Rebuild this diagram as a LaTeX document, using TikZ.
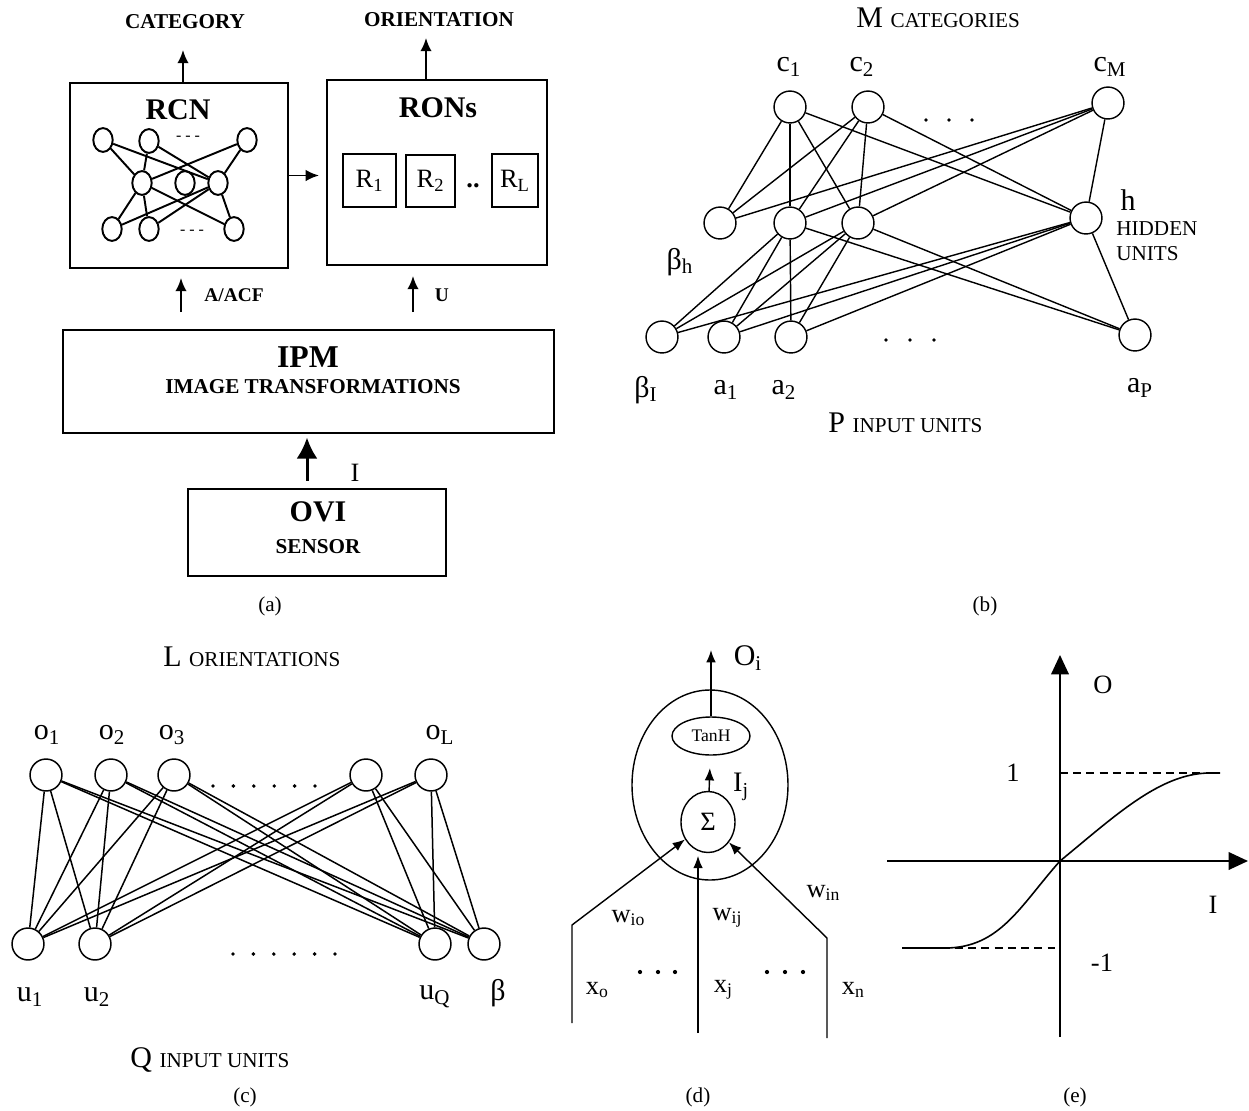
\documentclass[tikz,border=0pt]{standalone}
\usepackage{fontspec}
\setmainfont{Liberation Serif}
\usetikzlibrary{arrows.meta,shapes.geometric}
\def\pxl{0.5669pt}
\newcommand\fs[1]{\fontsize{#1}{#1}\selectfont}
\newcommand\lowtxt[1]{\raisebox{-0.25ex}{\fs{10}#1}}
\begin{document}
\begin{tikzpicture}[x=0.5669pt,y=-0.5669pt]
\tikzset{
  lbl/.style={inner sep=0pt},
  abox/.style={draw, line width=1.1pt, inner sep=0pt},
  arra/.style={line width=1.1pt, -{Latex[length=7.5pt,width=6.5pt]}},
  inn/.style={ellipse, draw, line width=1.1pt, minimum width=11pt, minimum height=13.5pt, inner sep=0pt},
  nl/.style={line width=1.1pt},
  bn/.style={circle, draw, line width=0.8pt, minimum size=18.1pt, inner sep=0pt},
  bl/.style={line width=0.8pt},
  cn/.style={circle, draw, line width=0.85pt, minimum size=18.1pt, inner sep=0pt},
  cl/.style={line width=0.85pt},
  ard/.style={line width=0.8pt, -{Latex[length=7pt,width=5.5pt]}},
  ae/.style={line width=1pt, -{Triangle[length=11pt,width=10pt]}},
  dsh/.style={line width=0.8pt, dash pattern=on 4.5pt off 3pt},
}
\useasboundingbox (0,0) rectangle (1249,1111);

% ================= (a) =================
\node[abox, minimum width=218*\pxl, minimum height=185*\pxl] (rcn) at (179,175.5) {};
\node[abox, minimum width=220*\pxl, minimum height=185*\pxl] (rons) at (437,172.5) {};
\node[abox, minimum width=491*\pxl, minimum height=103*\pxl] (ipm) at (308.5,381.5) {};
\node[abox, minimum width=258*\pxl, minimum height=87*\pxl] (ovi) at (317,532.5) {};

\node[lbl, font=\fs{12}\bfseries] (cat) at (185,22) {CATEGORY};
\node[lbl, font=\fs{12}\bfseries] (ori) at (439,20) {ORIENTATION};
\node[lbl, font=\fs{17}\bfseries] (rcnt) at (178,110) {RCN};
\node[lbl, font=\fs{17}\bfseries] (ront) at (438,108) {RONs};
\node[lbl, font=\fs{18}\bfseries] (ipmt) at (308,357) {IPM};
\node[lbl, font=\fs{12}\bfseries] (ipms) at (313,387) {IMAGE TRANSFORMATIONS};
\node[lbl, font=\fs{17}\bfseries] (ovit) at (318,512) {OVI};
\node[lbl, font=\fs{12}\bfseries] (ovis) at (318,547) {SENSOR};
\node[lbl, font=\fs{11}\bfseries] (acft) at (234,295) {A/ACF};
\node[lbl, font=\fs{11}\bfseries] (ut) at (442,295) {U};
\node[lbl, font=\fs{15}] (it) at (355,473) {I};
\node[lbl, font=\fs{12}] (capa) at (270,606) {(a)};

% inner network of RCN
\node[inn] (t1) at (103,140) {};
\node[inn] (t2) at (149,141) {};
\node[inn] (t3) at (247,140) {};
\node[inn] (m1) at (142,183) {};
\node[inn] (m2) at (185,183) {};
\node[inn] (m3) at (218,183) {};
\node[inn] (b1) at (112,229) {};
\node[inn] (b2) at (149,229) {};
\node[inn] (b3) at (234,229) {};
\node[lbl, font=\fs{9}] (dt) at (188,138) {- - -};
\node[lbl, font=\fs{9}] (db) at (192,232) {- - -};
\foreach \s/\t in {t1/m1,t1/m3,t2/m1,t2/m3,t3/m1,t3/m3,m1/b1,m1/b2,m1/b3,m3/b1,m3/b2,m3/b3}
  {\draw[nl] (\s) -- (\t);}

% R boxes
\node[abox, minimum width=53*\pxl, minimum height=53*\pxl, font=\fs{15}] (r1) at (369.5,180.5) {R\textsubscript{1}};
\node[abox, minimum width=49*\pxl, minimum height=52*\pxl, font=\fs{15}] (r2) at (430.5,181) {R\textsubscript{2}};
\node[abox, minimum width=46*\pxl, minimum height=53*\pxl, font=\fs{15}] (rl) at (515,180.5) {R\textsubscript{L}};
\node[lbl, font=\fs{15}\bfseries] (rdots) at (473,186) {..};

% arrows (a)
\coordinate (catarr) at (183,50);
\coordinate (oriarr) at (426,38);
\coordinate (acfx) at (181,278);
\coordinate (ux) at (413,276);
\coordinate (ix) at (307,0);
\draw[arra] (rcn.north -| catarr) -- (catarr);
\draw[arra] (rons.north -| oriarr) -- (oriarr);
\draw[arra, shorten >=4pt] (rcn.east) -- (rons.west |- rcn.east);
\draw[arra, shorten <=9.6pt] (ipm.north -| acfx) -- (acfx);
\draw[arra, shorten <=9.6pt] (ipm.north -| ux) -- (ux);
\draw[line width=1.7pt, -{Latex[length=12pt,width=12pt]}, shorten <=4pt, shorten >=2pt] (ovi.north -| ix) -- (ipm.south -| ix);

% ================= (b) =================
\node[bn] (c1) at (790,107) {};
\node[bn] (c2) at (868,107) {};
\node[bn] (cm) at (1108,103) {};
\node[bn] (bh) at (720,223) {};
\node[bn] (h1) at (790,223) {};
\node[bn] (h2) at (858,223) {};
\node[bn] (hh) at (1086,218) {};
\node[bn] (bi) at (662,337) {};
\node[bn] (a1) at (724,337) {};
\node[bn] (a2) at (791,337) {};
\node[bn] (ap) at (1135,335) {};
\foreach \s in {c1,c2,cm} {\foreach \t in {bh,h1,h2,hh} {\draw[bl] (\s) -- (\t);}}
\foreach \s in {h1,h2,hh} {\foreach \t in {bi,a1,a2,ap} {\draw[bl] (\s) -- (\t);}}
\foreach \x in {926,949,972} {\fill (\x,120) circle (1.1pt);}
\foreach \x in {886,910,934} {\fill (\x,340) circle (1.1pt);}

\node[lbl, font=\fs{17}, anchor=west] (mcat) at (856,18) {M {\fs{12}CATEGORIES}};
\node[lbl, font=\fs{17}] (lc1) at (789,67) {c\textsubscript{1}};
\node[lbl, font=\fs{17}] (lc2) at (862,67) {c\textsubscript{2}};
\node[lbl, font=\fs{17}] (lcm) at (1110,67) {c\textsubscript{M}};
\node[lbl, font=\fs{17}] (lbh) at (680,262) {β\textsubscript{h}};
\node[lbl, font=\fs{17}] (lbi) at (646,390) {β\textsubscript{I}};
\node[lbl, font=\fs{17}] (la1) at (726,390) {a\textsubscript{1}};
\node[lbl, font=\fs{17}] (la2) at (784,390) {a\textsubscript{2}};
\node[lbl, font=\fs{17}] (lap) at (1140,388) {a\textsubscript{P}};
\node[lbl, font=\fs{17}] (lh) at (1128,200) {h};
\node[lbl, font=\fs{12}, anchor=west] (lhid) at (1116,229) {HIDDEN};
\node[lbl, font=\fs{12}, anchor=west] (lun) at (1116,254) {UNITS};
\node[lbl, font=\fs{17}, anchor=west] (pin) at (828,423) {P {\fs{12}INPUT UNITS}};
\node[lbl, font=\fs{12}] (capb) at (985,606) {(b)};

% ================= (c) =================
\node[cn] (o1) at (46,775) {};
\node[cn] (o2) at (111,775) {};
\node[cn] (o3) at (174,775) {};
\node[cn] (o4) at (366,775) {};
\node[cn] (o5) at (431,775) {};
\node[cn] (u1) at (28,944) {};
\node[cn] (u2) at (95,944) {};
\node[cn] (uq) at (435,944) {};
\node[cn] (ub) at (484,944) {};
\foreach \s in {o1,o2,o3,o4,o5} {\foreach \t in {u1,u2,uq,ub} {\draw[cl] (\s) -- (\t);}}
\foreach \x in {213,233.4,253.8,274.2,294.6,315} {\fill (\x,786) circle (1.1pt);}
\foreach \x in {233,253.4,273.8,294.2,314.6,335} {\fill (\x,954) circle (1.1pt);}
\node[lbl, font=\fs{17}, anchor=west] (lor) at (163,657) {L {\fs{12}ORIENTATIONS}};
\node[lbl, font=\fs{17}] (lo1) at (47,735) {o\textsubscript{1}};
\node[lbl, font=\fs{17}] (lo2) at (112,735) {o\textsubscript{2}};
\node[lbl, font=\fs{17}] (lo3) at (172,735) {o\textsubscript{3}};
\node[lbl, font=\fs{17}] (lol) at (440,735) {o\textsubscript{L}};
\node[lbl, font=\fs{17}] (lu1) at (30,997) {u\textsubscript{1}};
\node[lbl, font=\fs{17}] (lu2) at (97,997) {u\textsubscript{2}};
\node[lbl, font=\fs{17}] (luq) at (435,997) {u\textsubscript{Q}};
\node[lbl, font=\fs{17}] (lub) at (498,993) {β};
\node[lbl, font=\fs{17}, anchor=west] (qin) at (130,1060) {Q {\fs{12}INPUT UNITS}};
\node[lbl, font=\fs{12}] (capc) at (245,1097) {(c)};

% ================= (d) =================
\node[ellipse, draw, line width=0.8pt, minimum width=156*\pxl, minimum height=190*\pxl, inner sep=0pt] (cell) at (710,785) {};
\node[ellipse, draw, line width=0.8pt, minimum width=78*\pxl, minimum height=38*\pxl, inner sep=0pt, font=\fs{10}] (tanh) at (711,736) {TanH};
\node[ellipse, draw, line width=0.8pt, minimum width=54*\pxl, minimum height=61*\pxl, inner sep=0pt, font=\fs{15}] (sig) at (708,822) {Σ};
\coordinate (oout) at (711,650);
\draw[ard, shorten >=7pt] (sig) -- (tanh);
\draw[ard] (tanh.north) -- (oout);
\coordinate (x0b) at (572,1023);
\coordinate (x0k) at (572,925);
\coordinate (xjb) at (698,1033);
\coordinate (xnb) at (827,1038);
\coordinate (xnk) at (827,938);
\draw[ard] (x0b) -- (x0k) -- (sig);
\draw[ard, shorten >=1.5pt] (xjb) -- (sig.south -| xjb);
\draw[ard] (xnb) -- (xnk) -- (sig);
\node[lbl, font=\fs{17}] (loi) at (748,658) {O\textsubscript{i}};
\node[lbl, font=\fs{16}] (lij) at (741,787) {I\textsubscript{j}};
\node[lbl, font=\fs{15}] (lwio) at (628,918) {w\lowtxt{io}};
\node[lbl, font=\fs{15}] (lwij) at (727,918) {w\lowtxt{ij}};
\node[lbl, font=\fs{15}] (lwin) at (823,893) {w\lowtxt{in}};
\node[lbl, font=\fs{15}] (lxo) at (597,990) {x\lowtxt{o}};
\node[lbl, font=\fs{15}] (lxj) at (723,990) {x\lowtxt{j}};
\node[lbl, font=\fs{15}] (lxn) at (853,990) {x\lowtxt{n}};
\foreach \x in {640,658,675,767,785,803} {\fill (\x,972) circle (1.2pt);}
\node[lbl, font=\fs{12}] (capd) at (698,1097) {(d)};

% ================= (e) =================
\coordinate (eo) at (1060,861);
\coordinate (ytop) at (1060,655);
\coordinate (ybot) at (1060,1037);
\coordinate (xl) at (887,861);
\coordinate (xr) at (1248,861);
\coordinate (p1a) at (1060,773);
\coordinate (p1b) at (1220,773);
\coordinate (m1a) at (902,948);
\coordinate (m1b) at (1060,948);
\draw[ae] (ybot) -- (ytop);
\draw[ae] (xl) -- (xr);
\draw[dsh] (p1a) -- (p1b);
\draw[dsh] (m1a) -- (m1b);
\draw[line width=0.9pt] (m1a) -- (945,948) .. controls (1000,948) and (1020,906) .. (eo)
   .. controls (1115,816) and (1160,773) .. (1210,773) -- (p1b);
\node[lbl, font=\fs{15}] (leo) at (1103,685) {O};
\node[lbl, font=\fs{15}] (le1) at (1013,773) {1};
\node[lbl, font=\fs{15}] (lei) at (1213,905) {I};
\node[lbl, font=\fs{15}] (lem) at (1102,963) {-1};
\node[lbl, font=\fs{12}] (cape) at (1075,1097) {(e)};
\end{tikzpicture}
\end{document}
